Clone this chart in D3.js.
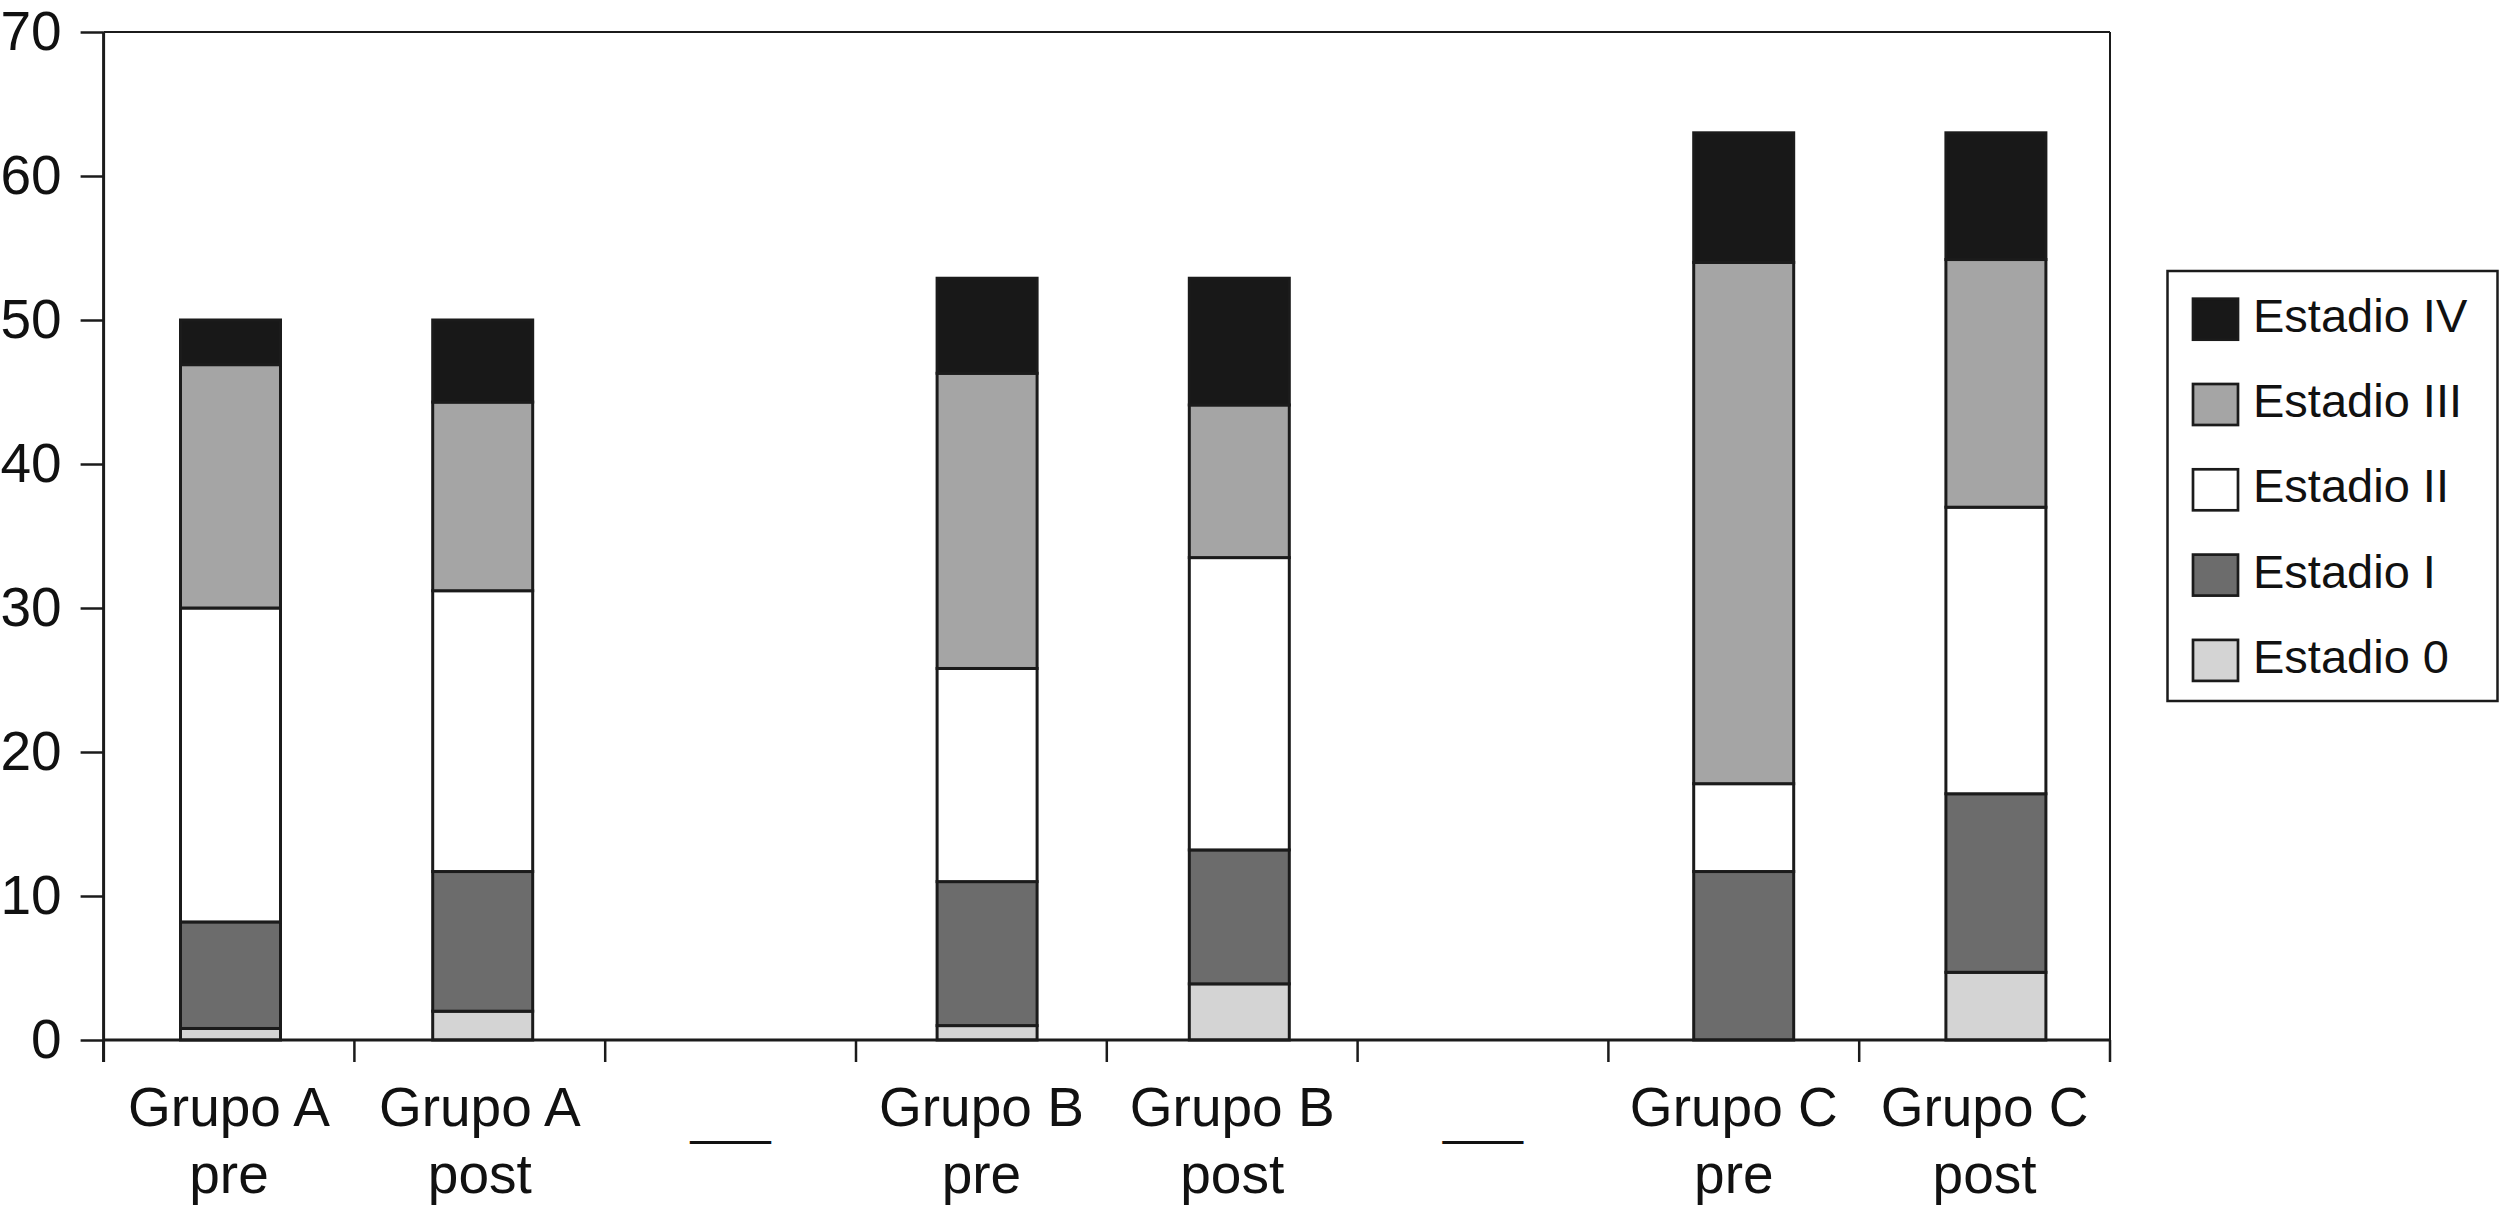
<!DOCTYPE html>
<html>
<head>
<meta charset="utf-8">
<script src="https://cdn.jsdelivr.net/npm/d3@7/dist/d3.min.js"></script>
<style>
  html, body { margin: 0; padding: 0; background: #ffffff; }
  svg { display: block; }
  text { font-family: "Liberation Sans", Arial, Helvetica, sans-serif; fill: #111111; }
</style>
</head>
<body>
<svg id="chart" width="2500" height="1211"></svg>
<script>
// ---------------- DATA ----------------
const categories = ["Grupo A pre", "Grupo A post", "gap1", "Grupo B pre", "Grupo B post", "gap2", "Grupo C pre", "Grupo C post"];
const labelLine1 = ["Grupo A", "Grupo A", "___", "Grupo B", "Grupo B", "___", "Grupo C", "Grupo C"];
const labelLine2 = ["pre", "post", "", "pre", "post", "", "pre", "post"];
const gapCategories = ["gap1", "gap2"];

const stages = ["Estadio 0", "Estadio I", "Estadio II", "Estadio III", "Estadio IV"];
const estadio0   = [0.8, 2.0, 0, 1.0, 3.9, 0, 0.0, 4.7];
const estadioI   = [7.4, 9.7, 0, 10.0, 9.3, 0, 11.7, 12.4];
const estadioII  = [21.8, 19.5, 0, 14.8, 20.3, 0, 6.1, 19.9];
const estadioIII = [16.9, 13.1, 0, 20.5, 10.6, 0, 36.2, 17.2];
const estadioIV  = [3.1, 5.7, 0, 6.6, 8.8, 0, 9.0, 8.8];

const yTicks = [0, 10, 20, 30, 40, 50, 60, 70];
const legendOrder = ["Estadio IV", "Estadio III", "Estadio II", "Estadio I", "Estadio 0"];

// ---------------- STYLE ----------------
const fills = {
  "Estadio 0": "#d4d4d4",
  "Estadio I": "#6c6c6c",
  "Estadio II": "#ffffff",
  "Estadio III": "#a5a5a5",
  "Estadio IV": "#181818"
};
const ink = "#1b1b1b";

// ---------------- BUILD ----------------
const seriesByStage = {
  "Estadio 0": estadio0, "Estadio I": estadioI, "Estadio II": estadioII,
  "Estadio III": estadioIII, "Estadio IV": estadioIV
};
const rows = categories.map((c, i) => {
  const r = { category: c };
  stages.forEach(s => { r[s] = seriesByStage[s][i]; });
  return r;
});

const svg = d3.select("#chart");

const X0 = 103.6, X1 = 2110, Y0 = 1040, Y1 = 32;
const y = d3.scaleLinear().domain([0, 70]).range([Y0, Y1]);
const xAxisScale = d3.scaleBand().domain(categories).range([X0, X1]);
const xBars = d3.scaleBand().domain(categories).range([104.4, 2122])
  .paddingInner(0.6035).paddingOuter(0.30175);

// frame (top and right)
svg.append("line").attr("x1", X0).attr("x2", X1).attr("y1", y(70)).attr("y2", y(70))
  .attr("stroke", ink).attr("stroke-width", 2);
svg.append("line").attr("x1", X1).attr("x2", X1).attr("y1", y(70)).attr("y2", y(0))
  .attr("stroke", ink).attr("stroke-width", 2);

// stacked bars
const stacked = d3.stack().keys(stages)(rows);
const barRows = svg.append("g").attr("class", "bars");
stacked.forEach(layer => {
  const key = layer.key;
  barRows.selectAll(null)
    .data(layer.filter(d => !gapCategories.includes(d.data.category) && (d[1] - d[0]) > 0))
    .enter().append("rect")
    .attr("x", d => xBars(d.data.category))
    .attr("width", xBars.bandwidth())
    .attr("y", d => y(d[1]))
    .attr("height", d => y(d[0]) - y(d[1]))
    .attr("fill", fills[key])
    .attr("stroke", ink)
    .attr("stroke-width", 3);
});

// y axis
const yAxis = d3.axisLeft(y).tickValues(yTicks).tickSize(23).tickSizeOuter(0).tickPadding(19);
const gy = svg.append("g").attr("transform", `translate(${X0},0)`).call(yAxis);
gy.select(".domain").remove();
gy.selectAll(".tick line").attr("stroke", ink).attr("stroke-width", 2.5);
gy.selectAll(".tick text").attr("font-size", 55).attr("fill", "#111");
svg.append("line").attr("x1", X0).attr("x2", X0).attr("y1", y(70)).attr("y2", y(0) + 22)
  .attr("stroke", ink).attr("stroke-width", 3);

// x axis line
svg.append("line").attr("x1", X0).attr("x2", X1).attr("y1", y(0)).attr("y2", y(0))
  .attr("stroke", ink).attr("stroke-width", 3);

// x axis boundary ticks
const boundaries = categories.map(c => xAxisScale(c)).concat([xAxisScale.range()[1]]);
svg.append("g").selectAll("line").data(boundaries).enter().append("line")
  .attr("x1", d => d).attr("x2", d => d)
  .attr("y1", y(0)).attr("y2", y(0) + 22)
  .attr("stroke", ink).attr("stroke-width", 2.5);

// x labels
const xl = svg.append("g").attr("class", "xlabels");
categories.forEach((c, i) => {
  const cx = xAxisScale(c) + xAxisScale.bandwidth() / 2;
  const isGap = gapCategories.includes(c);
  const t = xl.append("text").attr("text-anchor", "middle")
    .attr("font-size", isGap ? 48 : 55);
  if (isGap) {
    t.append("tspan").attr("x", cx).attr("y", 1134).text(labelLine1[i]);
  } else {
    t.append("tspan").attr("x", cx).attr("y", 1126).text(labelLine1[i]);
    t.append("tspan").attr("x", cx).attr("y", 1193).text(labelLine2[i]);
  }
});

// legend
const lg = svg.append("g").attr("class", "legend");
lg.append("rect").attr("x", 2167.5).attr("y", 271).attr("width", 330).attr("height", 430)
  .attr("fill", "#fff").attr("stroke", ink).attr("stroke-width", 2.5);
const legendY = d3.scalePoint().domain(legendOrder).range([319.2, 660.4]);
legendOrder.forEach(s => {
  const cy = legendY(s);
  lg.append("rect").attr("x", 2193).attr("y", cy - 20.5).attr("width", 45).attr("height", 41)
    .attr("fill", fills[s]).attr("stroke", ink).attr("stroke-width", 2.7);
  lg.append("text").attr("x", 2253).attr("y", cy + 12.5).attr("font-size", 47).text(s);
});
</script>
</body>
</html>
